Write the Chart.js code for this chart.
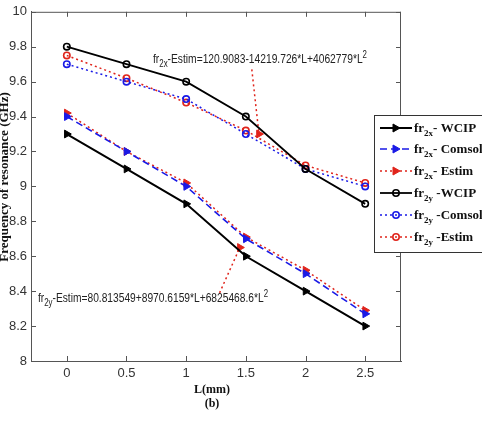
<!DOCTYPE html>
<html>
<head>
<meta charset="utf-8">
<script src="https://cdn.jsdelivr.net/npm/chart.js@4/dist/chart.umd.min.js"></script>
<style>
  body { margin: 0; background: #fff; }
  #wrap { width: 482px; height: 423px; }
</style>
</head>
<body>
<div id="wrap"><canvas id="resChart" width="482" height="423"></canvas></div>
<script>
// L in mm
const lengths = [0, 0.5, 1, 1.5, 2, 2.5];
const xTicks = [0, 0.5, 1, 1.5, 2, 2.5];
const yTicks = [8, 8.2, 8.4, 8.6, 8.8, 9, 9.2, 9.4, 9.6, 9.8, 10];

// resonance frequency (GHz)
const fr2xWcip   = [9.3, 9.1, 8.9, 8.6, 8.4, 8.2];
const fr2xConsol = [9.4, 9.2, 9.0, 8.7, 8.5, 8.27];
const fr2xEstim  = [9.42, 9.2, 9.02, 8.71, 8.52, 8.29];
const fr2yWcip   = [9.8, 9.7, 9.6, 9.4, 9.1, 8.9];
const fr2yConsol = [9.7, 9.6, 9.5, 9.3, 9.1, 9.0];
const fr2yEstim  = [9.75, 9.62, 9.48, 9.32, 9.12, 9.02];

// pointer lines from the fit equations to the curves
const upperPointerX = [1.55, 1.61];
const upperPointerY = [9.67, 9.30];
const lowerPointerX = [1.28, 1.45];
const lowerPointerY = [8.39, 8.65];

const legendLabels = [
  ['2x', '- WCIP'], ['2x', '- Comsol'], ['2x', '- Estim'],
  ['2y', ' -WCIP'], ['2y', ' -Comsol'], ['2y', ' -Estim']
];

const pts = (xs, ys) => xs.map((x, i) => ({ x: x, y: ys[i] }));

function series(values, color, dash, width, style, filled) {
  return {
    data: pts(lengths, values),
    borderColor: color,
    borderWidth: width,
    borderDash: dash,
    backgroundColor: filled ? color : 'rgba(0,0,0,0)',
    pointBorderColor: color,
    pointBackgroundColor: filled ? color : 'rgba(0,0,0,0)',
    pointStyle: style,
    pointRotation: style === 'triangle' ? 90 : 0,
    pointRadius: style === 'triangle' ? 4.5 : 3.2,
    pointBorderWidth: style === 'triangle' ? 1 : 1.6,
    tension: 0
  };
}

function pointer(xs, ys) {
  const d = series([], '#e0241b', [2, 3], 1.5, 'triangle', true);
  d.data = pts(xs, ys);
  d.pointRadius = [0, 4.5];
  return d;
}

const datasets = [
  series(fr2xWcip, '#000000', [], 2, 'triangle', true),
  series(fr2xConsol, '#1a1ae6', [7, 4], 1.6, 'triangle', true),
  series(fr2xEstim, '#e0241b', [2, 3], 1.5, 'triangle', true),
  series(fr2yWcip, '#000000', [], 1.8, 'circle', false),
  series(fr2yConsol, '#1a1ae6', [2, 3], 1.5, 'circle', false),
  series(fr2yEstim, '#e0241b', [2, 3], 1.5, 'circle', false),
  pointer(upperPointerX, upperPointerY),
  pointer(lowerPointerX, lowerPointerY)
];

function drawSubText(ctx, x, y, parts, font, smallFont) {
  // parts: [text, mode] with mode '', 'sub', 'sup'
  let cx = x;
  parts.forEach(p => {
    ctx.font = p[1] ? smallFont : font;
    let dy = 0;
    if (p[1] === 'sub') dy = 4;
    if (p[1] === 'sup') dy = -5;
    ctx.fillText(p[0], cx, y + dy);
    cx += ctx.measureText(p[0]).width;
  });
  return cx - x;
}

function measureParts(ctx, parts, font, smallFont) {
  let w = 0;
  parts.forEach(p => {
    ctx.font = p[1] ? smallFont : font;
    w += ctx.measureText(p[0]).width;
  });
  return w;
}

const decorPlugin = {
  id: 'decor',
  afterDraw(chart) {
    const ctx = chart.ctx;
    const a = chart.chartArea;
    const xs = chart.scales.x, ys = chart.scales.y;
    ctx.save();

    // box and inside ticks
    ctx.strokeStyle = '#555';
    ctx.lineWidth = 1;
    ctx.beginPath();
    ctx.moveTo(a.left, a.top + 0.5); ctx.lineTo(a.right, a.top + 0.5);
    ctx.moveTo(a.right - 0.5, a.top); ctx.lineTo(a.right - 0.5, a.bottom);
    xTicks.forEach(v => {
      const px = Math.round(xs.getPixelForValue(v)) + 0.5;
      ctx.moveTo(px, a.bottom); ctx.lineTo(px, a.bottom - 5);
      ctx.moveTo(px, a.top); ctx.lineTo(px, a.top + 5);
    });
    yTicks.forEach(v => {
      const py = Math.round(ys.getPixelForValue(v)) + 0.5;
      ctx.moveTo(a.left, py); ctx.lineTo(a.left + 5, py);
      ctx.moveTo(a.right, py); ctx.lineTo(a.right - 5, py);
    });
    ctx.stroke();

    // axis titles
    ctx.fillStyle = '#111';
    ctx.textAlign = 'center';
    ctx.textBaseline = 'middle';
    ctx.font = 'bold 12px "Liberation Serif"';
    ctx.fillText('L(mm)', 212, 390);
    ctx.fillText('(b)', 212, 404);
    ctx.save();
    ctx.translate(5, 177);
    ctx.rotate(-Math.PI / 2);
    ctx.font = 'bold 13px "Liberation Serif"';
    ctx.fillText('Frequency of resonance (GHz)', 0, 0);
    ctx.restore();

    // fit equations
    ctx.textAlign = 'left';
    ctx.textBaseline = 'alphabetic';
    ctx.fillStyle = '#222';
    const eqFont = '13px "Liberation Sans"', eqSmall = '10px "Liberation Sans"';
    const eq1 = [['fr', ''], ['2x', 'sub'], ['-Estim=120.9083-14219.726*L+4062779*L', ''], ['2', 'sup']];
    const eq2 = [['fr', ''], ['2y', 'sub'], ['-Estim=80.813549+8970.6159*L+6825468.6*L', ''], ['2', 'sup']];
    [[eq1, 153, 63, 214], [eq2, 38, 302, 230]].forEach(e => {
      const w = measureParts(ctx, e[0], eqFont, eqSmall);
      ctx.save();
      ctx.translate(e[1], e[2]);
      ctx.scale(e[3] / w, 1);
      drawSubText(ctx, 0, 0, e[0], eqFont, eqSmall);
      ctx.restore();
    });

    // legend box
    const lx = 374, ly = 115, lw = 120, lh = 137;
    ctx.fillStyle = '#fff';
    ctx.fillRect(lx, ly, lw, lh);
    ctx.strokeStyle = '#333';
    ctx.lineWidth = 1;
    ctx.strokeRect(lx + 0.5, ly + 0.5, lw, lh);
    const rowY = [128, 149, 171, 193, 215, 237];
    legendLabels.forEach((lab, i) => {
      const ds = chart.data.datasets[i];
      const y = rowY[i];
      ctx.save();
      ctx.strokeStyle = ds.borderColor;
      ctx.lineWidth = ds.borderWidth;
      ctx.setLineDash(ds.borderDash);
      ctx.beginPath();
      ctx.moveTo(380, y); ctx.lineTo(412, y);
      ctx.stroke();
      ctx.restore();
      ctx.fillStyle = ds.pointBackgroundColor;
      ctx.strokeStyle = ds.pointBorderColor;
      ctx.lineWidth = ds.pointBorderWidth;
      ctx.beginPath();
      if (ds.pointStyle === 'circle') {
        ctx.arc(396, y, ds.pointRadius, 0, Math.PI * 2);
      } else {
        ctx.moveTo(400, y); ctx.lineTo(393, y - 4); ctx.lineTo(393, y + 4); ctx.closePath();
      }
      ctx.fill();
      ctx.stroke();
      ctx.fillStyle = '#111';
      drawSubText(ctx, 414, y + 4, [['fr', ''], [lab[0], 'sub'], [lab[1], '']],
        'bold 13px "Liberation Serif"', 'bold 9px "Liberation Serif"');
    });

    ctx.restore();
  }
};

const tickFont = { family: '"Liberation Sans"', size: 13 };

new Chart(document.getElementById('resChart'), {
  type: 'line',
  data: { datasets: datasets },
  plugins: [decorPlugin],
  options: {
    responsive: false,
    devicePixelRatio: 1,
    animation: false,
    layout: { padding: { top: 11, right: 81, left: 0, bottom: 0 } },
    plugins: { legend: { display: false }, tooltip: { enabled: false } },
    scales: {
      x: {
        type: 'linear',
        min: -0.3,
        max: 2.8,
        afterBuildTicks: s => { s.ticks = xTicks.map(v => ({ value: v })); },
        afterFit: s => { s.height = 62; },
        grid: { display: false, drawTicks: false },
        border: { display: true, color: '#555', width: 1 },
        ticks: { color: '#333', padding: 5, font: tickFont, callback: v => String(v) }
      },
      y: {
        min: 8,
        max: 10,
        afterBuildTicks: s => { s.ticks = yTicks.map(v => ({ value: v })); },
        afterFit: s => { s.width = 31; },
        grid: { display: false, drawTicks: false },
        border: { display: true, color: '#555', width: 1 },
        ticks: { color: '#333', padding: 4, font: tickFont, callback: v => String(v) }
      }
    }
  }
});
</script>
</body>
</html>
